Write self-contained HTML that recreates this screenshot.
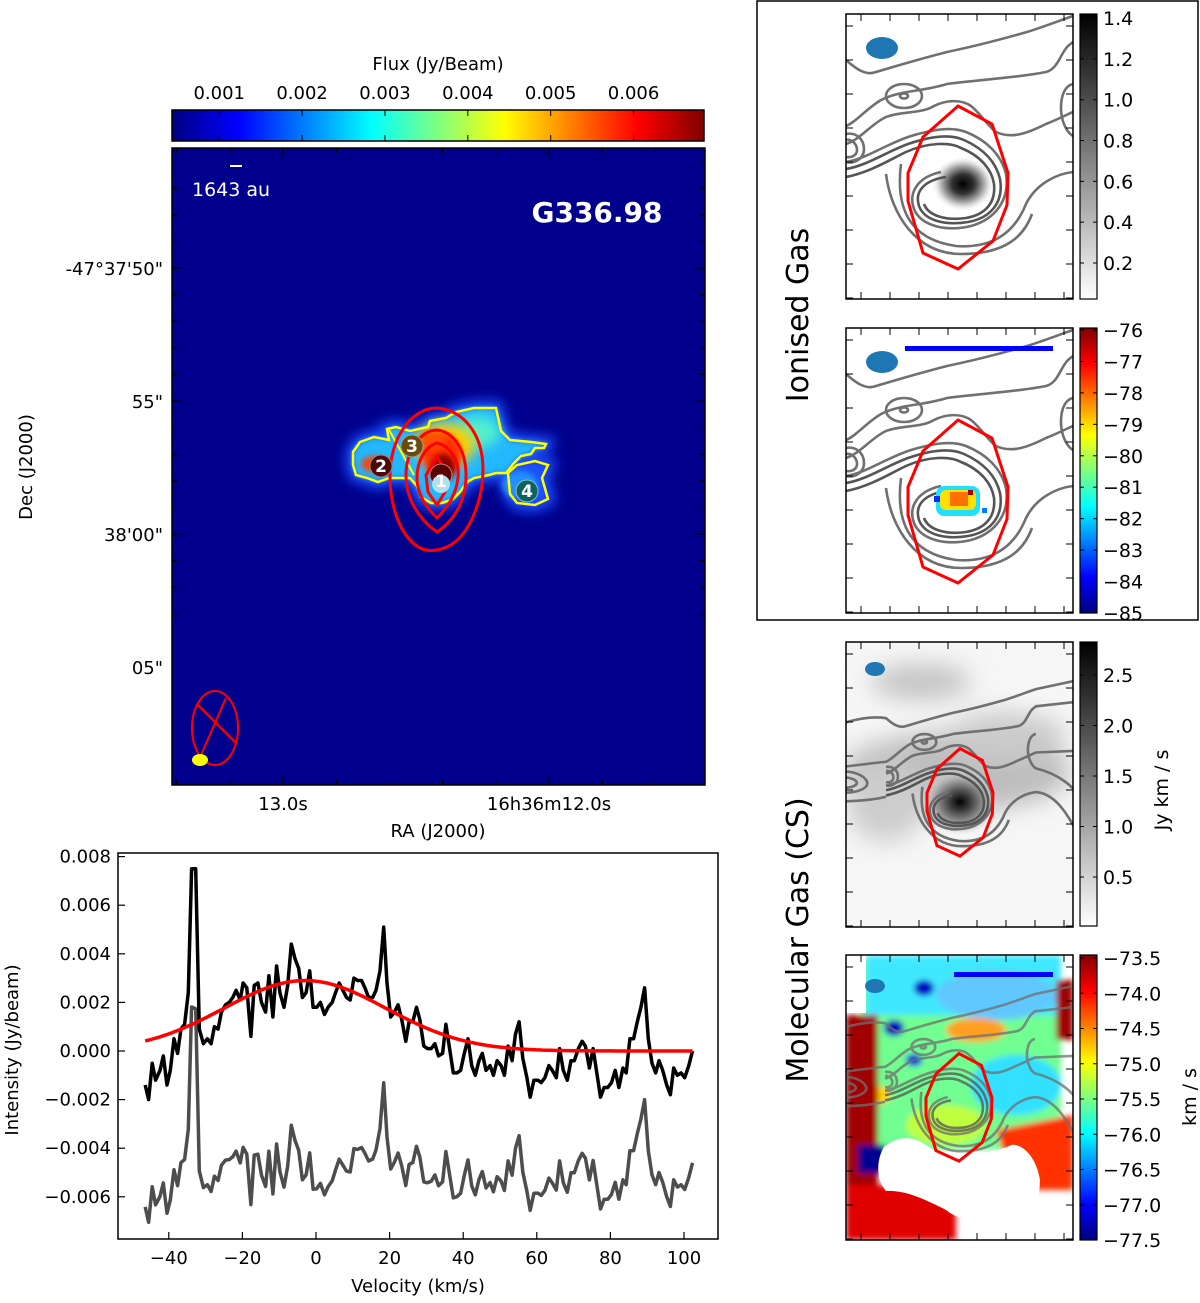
<!DOCTYPE html>
<html><head><meta charset="utf-8">
<style>
html,body{margin:0;padding:0;background:#fff;}
svg text{font-family:"DejaVu Sans","Liberation Sans",sans-serif;}
</style></head>
<body>
<svg id="fig" width="1200" height="1298" viewBox="0 0 1200 1298" xmlns="http://www.w3.org/2000/svg">
<defs>
  <linearGradient id="jetH" x1="0" y1="0" x2="1" y2="0">
    <stop offset="0" stop-color="#000080"/><stop offset="0.125" stop-color="#0000ff"/>
    <stop offset="0.375" stop-color="#00ffff"/><stop offset="0.625" stop-color="#ffff00"/>
    <stop offset="0.875" stop-color="#ff0000"/><stop offset="1" stop-color="#800000"/>
  </linearGradient>
  <linearGradient id="jetV" x1="0" y1="1" x2="0" y2="0">
    <stop offset="0" stop-color="#000080"/><stop offset="0.125" stop-color="#0000ff"/>
    <stop offset="0.375" stop-color="#00ffff"/><stop offset="0.625" stop-color="#ffff00"/>
    <stop offset="0.875" stop-color="#ff0000"/><stop offset="1" stop-color="#800000"/>
  </linearGradient>
  <linearGradient id="grayV" x1="0" y1="1" x2="0" y2="0">
    <stop offset="0" stop-color="#ffffff"/><stop offset="1" stop-color="#000000"/>
  </linearGradient>
  <radialGradient id="blob1"><stop offset="0" stop-color="#000"/><stop offset="0.35" stop-color="#333"/><stop offset="0.7" stop-color="#bbb"/><stop offset="1" stop-color="#fff" stop-opacity="0"/></radialGradient>
  <radialGradient id="blob3"><stop offset="0" stop-color="#000"/><stop offset="0.3" stop-color="#444"/><stop offset="0.7" stop-color="#aaa"/><stop offset="1" stop-color="#ddd" stop-opacity="0"/></radialGradient>
  <filter id="blur3" x="-50%" y="-50%" width="200%" height="200%"><feGaussianBlur stdDeviation="3"/></filter>
  <filter id="blur6" x="-50%" y="-50%" width="200%" height="200%"><feGaussianBlur stdDeviation="6"/></filter>
  <filter id="blur12" x="-50%" y="-50%" width="200%" height="200%"><feGaussianBlur stdDeviation="12"/></filter>
  <clipPath id="mapClip"><rect x="172" y="148" width="533" height="637"/></clipPath>
  <clipPath id="pClip"><rect x="0" y="0" width="227" height="285"/></clipPath>
  <g id="contours" fill="none" stroke="#707070" stroke-width="2.6">
    <path vector-effect="non-scaling-stroke" d="M-120,70 C-80,60 -40,40 0,46 C10,55 20,62 30,58 C50,52 70,46 101,38 C130,32 160,24 181,18 C200,12 215,6 227,2 L330,-20"/>
    <path vector-effect="non-scaling-stroke" d="M-120,125 C-60,120 -30,115 0,112 C10,108 20,95 35,86 C55,76 75,78 101,70 C130,66 170,64 200,58 C212,55 214,40 222,32 L227,28 L300,20"/>
    <path vector-effect="non-scaling-stroke" d="M227,70 C215,72 212,95 218,110 C222,120 227,122 227,122 C260,130 290,150 300,180"/>
    <ellipse vector-effect="non-scaling-stroke" cx="58" cy="82" rx="18" ry="12"/>
    <ellipse vector-effect="non-scaling-stroke" cx="58" cy="82" rx="4" ry="2.5"/>
    <path vector-effect="non-scaling-stroke" d="M0,130 C15,125 25,110 40,103 C55,97 75,100 88,92 C100,86 115,85 125,92 C135,100 140,110 150,118 C165,125 180,120 200,110 C215,104 222,100 227,98 L300,95"/>
    <path vector-effect="non-scaling-stroke" d="M0,148 C20,145 40,130 65,122 C85,116 105,112 120,118 C140,126 155,140 160,160 C164,185 150,205 125,212 C100,218 75,212 68,195 C62,178 72,163 95,158"/>
    <path vector-effect="non-scaling-stroke" d="M0,155 C20,152 40,138 62,130 C85,122 105,120 118,126 C138,135 150,148 154,165 C158,188 145,204 122,208 C98,212 78,206 73,192 C68,176 80,166 100,163" stroke="#555"/>
    <path vector-effect="non-scaling-stroke" d="M0,163 C25,158 45,145 60,138 C82,128 105,128 115,134 C135,142 146,156 148,170 C150,190 138,201 120,204 C98,207 82,201 78,190" stroke="#555"/>
    <path vector-effect="non-scaling-stroke" d="M0,120 C10,118 18,125 18,135 C18,145 8,150 0,148"/>
    <path vector-effect="non-scaling-stroke" d="M0,126 C6,125 11,130 11,136 C11,141 6,144 0,143"/>
    <path vector-effect="non-scaling-stroke" d="M-100,140 C-80,120 -40,125 -30,140 C-20,155 -60,165 -90,155 Z"/>
    <path vector-effect="non-scaling-stroke" d="M-90,142 C-75,132 -50,135 -45,142 C-40,150 -65,155 -85,150 Z"/>
    <path vector-effect="non-scaling-stroke" d="M-120,170 C-60,175 -20,170 0,165 M55,150 C50,190 60,225 110,232 C150,235 170,215 180,190 C190,170 210,160 227,158 C260,160 280,200 300,240"/>
    <path vector-effect="non-scaling-stroke" d="M40,160 C45,200 70,240 115,240 C160,240 178,222 186,200"/>
  </g>
  <polygon id="redpoly" vector-effect="non-scaling-stroke" points="112,92 146,110 162,159 161,191 147,227 112,255 77,239 62,187 62,159 77,123" fill="none" stroke="#f00" stroke-width="3"/>
</defs>

<!-- ============ MAIN MAP ============ -->
<g>
  <text x="438" y="70" font-size="18" text-anchor="middle">Flux (Jy/Beam)</text>
  <rect x="172" y="110" width="532" height="31" fill="url(#jetH)" stroke="#000" stroke-width="1.5"/>
  <g id="cbTicks"></g>

  <g clip-path="url(#mapClip)">
    <rect x="172" y="148" width="533" height="637" fill="#00008c"/>
    <polygon points="353,452 360,442 374,437 389,440 387,429 396,427 410,431 428,427 430,421 446,418 456,412 474,408 496,408 501,431 510,440 531,442 546,444 544,448 535,448 531,454 521,456 514,463 506,473 496,473 489,475 474,478 467,482 460,492 453,499 442,503 431,503 421,497 417,486 410,478 403,478 389,478 378,482 367,478 356,475 353,465" fill="#1a50ff" stroke="#1a50ff" stroke-width="14" filter="url(#blur6)"/>
    <polygon points="508,473 517,465 535,461 548,465 542,478 548,499 535,505 517,503 510,494" fill="#1a50ff" stroke="#1a50ff" stroke-width="14" filter="url(#blur6)"/>
    <polygon points="353,452 360,442 374,437 389,440 387,429 396,427 410,431 428,427 430,421 446,418 456,412 474,408 496,408 501,431 510,440 531,442 546,444 544,448 535,448 531,454 521,456 514,463 506,473 496,473 489,475 474,478 467,482 460,492 453,499 442,503 431,503 421,497 417,486 410,478 403,478 389,478 378,482 367,478 356,475 353,465" fill="#20b8ff" filter="url(#blur3)"/>
    <ellipse cx="478" cy="432" rx="22" ry="16" fill="#50f0d0" filter="url(#blur6)"/>
    <ellipse cx="445" cy="445" rx="30" ry="22" fill="#ffd000" filter="url(#blur6)"/>
    <ellipse cx="442" cy="455" rx="20" ry="22" fill="#ff3000" filter="url(#blur3)"/>
    <ellipse cx="432" cy="440" rx="14" ry="9" fill="#ff5000" filter="url(#blur3)"/>
    <ellipse cx="443" cy="468" rx="12" ry="14" fill="#8a0000" filter="url(#blur3)"/>
    <ellipse cx="375" cy="464" rx="14" ry="8" fill="#ff4000" filter="url(#blur3)"/>
    <ellipse cx="520" cy="485" rx="18" ry="14" fill="#2090ff" filter="url(#blur3)"/>
    <polygon points="353,452 360,442 374,437 389,440 387,429 396,427 410,431 428,427 430,421 446,418 456,412 474,408 496,408 501,431 510,440 531,442 546,444 544,448 535,448 531,454 521,456 514,463 506,473 496,473 489,475 474,478 467,482 460,492 453,499 442,503 431,503 421,497 417,486 410,478 403,478 389,478 378,482 367,478 356,475 353,465" fill="none" stroke="#ffff00" stroke-width="2.5"/>
    <polygon points="508,473 517,465 535,461 548,465 542,478 548,499 535,505 517,503 510,494" fill="none" stroke="#ffff00" stroke-width="2.5"/>
    <line x1="388" y1="428" x2="414" y2="475" stroke="#ffff00" stroke-width="2"/>
    <g fill="none" stroke="#ff0000" stroke-width="3">
      <path d="M437,408 C462,410 483,432 483,470 C483,500 470,530 455,542 C445,550 430,553 420,548 C402,538 390,510 390,475 C390,440 410,408 437,408 Z"/>
      <path d="M437,430 C455,432 466,452 466,475 C466,500 455,520 437,532 C420,520 406,500 406,475 C406,452 420,430 437,430 Z"/>
      <path d="M437,443 C450,446 460,460 458,478 C456,495 447,508 437,518 C427,508 417,495 417,478 C417,460 426,446 437,443 Z"/>
      <path d="M437,457 L448,475 L445,492 L437,505 L428,492 L426,475 Z"/>
    </g>
    <g font-size="17" font-weight="bold" fill="#fff" text-anchor="middle">
      <circle cx="441" cy="475" r="11" fill="#5a0000" stroke="#c08080" stroke-width="1"/>
      <circle cx="441" cy="484" r="9" fill="#aee0f0"/>
      <text x="441" y="487">1</text>
      <circle cx="381" cy="466" r="11" fill="#4a0a0a" stroke="#a08080" stroke-width="1"/>
      <text x="381" y="472">2</text>
      <circle cx="412" cy="446" r="11" fill="#6a4a10" stroke="#a0a080" stroke-width="1"/>
      <text x="412" y="452">3</text>
      <circle cx="527" cy="491" r="11" fill="#106060" stroke="#80c0c0" stroke-width="1"/>
      <text x="527" y="497">4</text>
    </g>
    <ellipse cx="215" cy="728" rx="23" ry="37" fill="none" stroke="#ff0000" stroke-width="2"/>
    <line x1="198" y1="705" x2="236" y2="743" stroke="#ff0000" stroke-width="2"/>
    <line x1="226" y1="698" x2="198" y2="762" stroke="#ff0000" stroke-width="2"/>
    <ellipse cx="200" cy="760" rx="8" ry="6" fill="#ffff00"/>
    <line x1="230" y1="166" x2="242" y2="166" stroke="#fff" stroke-width="2"/>
    <text x="192" y="196" font-size="19" fill="#fff">1643 au</text>
    <text x="597" y="222" font-size="28" font-weight="bold" fill="#fff" text-anchor="middle">G336.98</text>
  </g>
  <rect x="172" y="148" width="533" height="637" fill="none" stroke="#000" stroke-width="1.5"/>
  <g id="mapTicks"></g>
  <g font-size="18" text-anchor="end">
    <text x="163" y="275">-47°37'50"</text>
    <text x="163" y="408">55"</text>
    <text x="163" y="541">38'00"</text>
    <text x="163" y="674">05"</text>
  </g>
  <g font-size="18" text-anchor="middle">
    <text x="283" y="810">13.0s</text>
    <text x="549" y="810">16h36m12.0s</text>
  </g>
  <text x="438" y="837" font-size="18" text-anchor="middle">RA (J2000)</text>
  <text x="0" y="0" font-size="18" text-anchor="middle" transform="translate(32,467) rotate(-90)">Dec (J2000)</text>
</g>

<!-- ============ SPECTRUM ============ -->
<g>
  <g id="specMarks"></g>
  <rect x="118" y="853" width="600" height="386" fill="none" stroke="#000" stroke-width="1.5"/>
  <g id="specAxes"></g>
  <text x="418" y="1292" font-size="18" text-anchor="middle">Velocity (km/s)</text>
  <text x="0" y="0" font-size="18" text-anchor="middle" transform="translate(18,1050) rotate(-90)">Intensity (Jy/beam)</text>
</g>

<!-- ============ RIGHT PANELS ============ -->
<rect x="757" y="1" width="441" height="619" fill="none" stroke="#000" stroke-width="1.5"/>
<text x="0" y="0" font-size="30" text-anchor="middle" transform="translate(808,315) rotate(-90)">Ionised Gas</text>
<text x="0" y="0" font-size="30" text-anchor="middle" transform="translate(808,940) rotate(-90)">Molecular Gas (CS)</text>

<!-- panel 1 -->
<g transform="translate(846,14)">
  <g clip-path="url(#pClip)">
    <rect width="227" height="285" fill="#fff"/>
    <ellipse cx="117" cy="170" rx="32" ry="28" fill="url(#blob1)"/>
    <use href="#contours"/>
    <use href="#redpoly"/>
    <ellipse cx="36" cy="34" rx="16" ry="11" fill="#1f77b4"/>
  </g>
  <rect width="227" height="285" fill="none" stroke="#000" stroke-width="1.5"/>
</g>
<!-- panel 2 -->
<g transform="translate(846,328)">
  <g clip-path="url(#pClip)">
    <rect width="227" height="285" fill="#fff"/>
    <use href="#contours"/>
    <rect x="90" y="158" width="44" height="30" rx="8" fill="#20e0ff"/>
    <rect x="94" y="162" width="36" height="20" rx="6" fill="#ffe000"/>
    <rect x="104" y="164" width="18" height="14" fill="#ff7000"/>
    <rect x="122" y="162" width="5" height="5" fill="#a00000"/>
    <rect x="88" y="168" width="6" height="6" fill="#0030ff"/>
    <rect x="136" y="180" width="5" height="5" fill="#0080ff"/>
    <use href="#redpoly"/>
    <ellipse cx="36" cy="34" rx="16" ry="11" fill="#1f77b4"/>
    <rect x="59" y="18" width="148" height="5" fill="#0000ff"/>
  </g>
  <rect width="227" height="285" fill="none" stroke="#000" stroke-width="1.5"/>
</g>
<!-- panel 3 -->
<g transform="translate(846,642)">
  <g clip-path="url(#pClip)">
    <rect width="227" height="285" fill="#f6f6f6"/>
    <g filter="url(#blur12)">
      <ellipse cx="75" cy="40" rx="50" ry="18" fill="#c4c4c4"/>
      <ellipse cx="110" cy="130" rx="115" ry="40" fill="#bdbdbd"/>
      <ellipse cx="40" cy="160" rx="40" ry="40" fill="#cdcdcd"/>
      <ellipse cx="160" cy="95" rx="60" ry="25" fill="#cacaca"/>
    </g>
    <ellipse cx="114" cy="160" rx="38" ry="33" fill="url(#blob3)"/>
    <g transform="translate(114,160) scale(0.66) translate(-112,-173)"><use href="#contours"/><use href="#redpoly"/></g>
    <ellipse cx="29" cy="27" rx="10" ry="7" fill="#1f77b4"/>
  </g>
  <rect width="227" height="285" fill="none" stroke="#000" stroke-width="1.5"/>
</g>
<!-- panel 4 -->
<g transform="translate(846,955)">
  <g clip-path="url(#pClip)">
    <rect width="227" height="285" fill="#fff"/>
    <g filter="url(#blur3)">
      <rect x="15" y="5" width="200" height="190" fill="#70ff90"/>
      <rect x="20" y="0" width="195" height="60" fill="#40e8ff"/>
      <ellipse cx="150" cy="40" rx="60" ry="25" fill="#60c8ff"/>
      <ellipse cx="170" cy="130" rx="45" ry="30" fill="#30e0ff"/>
      <ellipse cx="130" cy="75" rx="30" ry="12" fill="#ffa020"/>
      <ellipse cx="25" cy="140" rx="20" ry="10" fill="#ffd000"/>
      <ellipse cx="100" cy="170" rx="40" ry="20" fill="#c0ff40"/>
      <ellipse cx="78" cy="33" rx="10" ry="8" fill="#0000c0"/>
      <ellipse cx="48" cy="73" rx="10" ry="8" fill="#0000c0"/>
      <ellipse cx="68" cy="105" rx="8" ry="6" fill="#0000e0"/>
      <rect x="0" y="60" width="32" height="170" fill="#a00000"/>
      <rect x="210" y="25" width="17" height="60" fill="#a00000"/>
      <path d="M150,175 L227,160 L227,235 L170,235 Z" fill="#ff3000"/>
      <rect x="12" y="190" width="28" height="28" fill="#000090"/>
      <rect x="0" y="230" width="110" height="55" fill="#e00000"/>
    </g>
    <path d="M38,192 C55,178 72,182 88,196 C120,200 150,198 165,190 C175,188 190,200 194,225 L192,258 C150,262 120,272 100,255 C80,245 60,235 40,236 C30,225 30,205 38,192 Z" fill="#fff"/>
    <rect x="0" y="0" width="20" height="58" fill="#fff"/>
    <g opacity="0.75"><g transform="translate(113,152) scale(0.66) translate(-112,-173)"><use href="#contours"/></g></g>
    <g transform="translate(113,152) scale(0.66) translate(-112,-173)"><use href="#redpoly"/></g>
    <ellipse cx="29" cy="31" rx="10" ry="7" fill="#1f77b4"/>
    <rect x="108" y="17" width="99" height="5" fill="#0000ff"/>
  </g>
  <rect width="227" height="285" fill="none" stroke="#000" stroke-width="1.5"/>
</g>

<!-- colorbars right -->
<rect x="1080" y="14" width="17" height="285" fill="url(#grayV)" stroke="#000" stroke-width="1.2"/>
<rect x="1080" y="328" width="17" height="285" fill="url(#jetV)" stroke="#000" stroke-width="1.2"/>
<rect x="1080" y="642" width="17" height="284" fill="url(#grayV)" stroke="#000" stroke-width="1.2"/>
<rect x="1080" y="955" width="17" height="285" fill="url(#jetV)" stroke="#000" stroke-width="1.2"/>
<g id="rightTicks"></g>
<text x="0" y="0" font-size="19" text-anchor="middle" transform="translate(1168,790) rotate(-90)">Jy km / s</text>
<text x="0" y="0" font-size="19" text-anchor="middle" transform="translate(1196,1097) rotate(-90)">km / s</text>

<script>
// ---- spectrum data ----
const velocity = [-46.4,-45.5,-44.5,-43.6,-42.4,-41.5,-40.5,-39.6,-38.6,-37.6,-36.7,-35.7,-34.7,-33.8,-32.7,-31.7,-30.6,-29.5,-28.5,-27.6,-26.6,-25.7,-24.6,-23.6,-22.6,-21.7,-20.6,-19.8,-18.8,-17.7,-16.8,-15.8,-14.8,-13.7,-12.8,-11.7,-10.7,-9.8,-8.7,-7.7,-6.7,-5.7,-4.7,-3.7,-2.7,-1.7,-0.8,0.2,1.2,2.3,3.3,4.4,5.3,6.3,7.3,8.3,9.3,10.3,11.3,12.4,13.3,14.3,15.4,16.3,17.4,18.4,19.3,20.3,21.3,22.3,23.3,24.4,25.3,26.3,27.3,28.2,29.3,30.3,31.3,32.3,33.3,34.4,35.3,36.3,37.3,38.3,39.3,40.3,41.3,42.3,43.3,44.3,45.2,46.2,47.3,48.2,49.2,50.3,51.2,52.2,53.3,54.2,55.2,56.2,57.3,58.2,59.2,60.3,61.2,62.2,63.3,64.2,65.3,66.2,67.2,68.3,69.3,70.2,71.3,72.3,73.2,74.3,75.3,76.3,77.3,78.3,79.3,80.3,81.3,82.3,83.4,84.3,85.3,86.3,87.3,88.3,89.3,90.3,91.3,92.3,93.2,94.2,95.3,96.3,97.2,98.2,99.2,100.2,101.3,102.3];
const intensity = [-0.0014,-0.0020,-0.0005,-0.0012,-0.0008,-0.0002,-0.0014,-0.0008,0.0005,-0.0001,0.0009,0.0011,0.0024,0.0075,0.0075,0.0009,0.0003,0.0005,0.0003,0.0010,0.0009,0.0016,0.0019,0.0020,0.0022,0.0025,0.0021,0.0028,0.0026,0.0006,0.0027,0.0028,0.0020,0.0016,0.0031,0.0014,0.0035,0.0024,0.0018,0.0027,0.0044,0.0038,0.0034,0.0022,0.0024,0.0033,0.0018,0.0018,0.0020,0.0015,0.0018,0.0020,0.0024,0.0028,0.0025,0.0022,0.0021,0.0030,0.0029,0.0029,0.0026,0.0022,0.0022,0.0025,0.0033,0.0051,0.0028,0.0014,0.0016,0.0019,0.0013,0.0004,0.0012,0.0012,0.0018,0.0013,0.0002,0.0001,0.0001,0.0003,-0.0002,-0.0001,0.0011,0.0001,-0.0009,-0.0009,-0.0008,-0.0001,0.0005,-0.0006,-0.0010,-0.0004,-0.0001,-0.0008,-0.0006,-0.0010,-0.0004,-0.0006,-0.0010,0.0002,-0.0004,0.0007,0.0012,-0.0003,-0.0011,-0.0019,-0.0012,-0.0012,-0.0013,-0.0011,-0.0006,-0.0008,-0.0011,0.0001,-0.0008,-0.0012,-0.0004,-0.0004,0.0001,0.0004,0.0002,-0.0007,0.0001,-0.0009,-0.0019,-0.0015,-0.0015,-0.0013,-0.0008,-0.0015,-0.0007,-0.0009,0.0005,0.0005,0.0012,0.0018,0.0026,0.0005,-0.0005,-0.0009,-0.0004,-0.0008,-0.0014,-0.0018,-0.0007,-0.0010,-0.0009,-0.0011,-0.0006,0.0000];
const fitAmplitude = [0.0029];
const fitCentre = [-3];
const fitSigma = [22];
const residualOffset = [0.0046];
const xTicks = [-40,-20,0,20,40,60,80,100];
const yTicks = [0.008,0.006,0.004,0.002,0.000,-0.002,-0.004,-0.006];
const yTickLabels = ["0.008","0.006","0.004","0.002","0.000","\u22120.002","\u22120.004","\u22120.006"];
// ---- colorbar data ----
const fluxTicks = [0.001,0.002,0.003,0.004,0.005,0.006];
const fluxMin = 0.00043, fluxMax = 0.00685;
const cb1Ticks = [1.4,1.2,1.0,0.8,0.6,0.4,0.2];
const cb2Ticks = [-76,-77,-78,-79,-80,-81,-82,-83,-84,-85];
const cb3Ticks = [2.5,2.0,1.5,1.0,0.5];
const cb4Ticks = ["-73.5","-74.0","-74.5","-75.0","-75.5","-76.0","-76.5","-77.0","-77.5"];

const NS = "http://www.w3.org/2000/svg";
function mk(tag, attrs, parent){const e=document.createElementNS(NS,tag);for(const k in attrs)e.setAttribute(k,attrs[k]);parent.appendChild(e);return e;}
function xS(v){return 316 + v*3.68;}
function yS(i){return 1051 - i*24300;}
function fitVal(v){return fitAmplitude[0]*Math.exp(-Math.pow(v-fitCentre[0],2)/(2*fitSigma[0]*fitSigma[0]));}

const sm = document.getElementById('specMarks');
let dRes = "", dObs = "", dFit = "";
velocity.forEach((v,k)=>{
  const r = intensity[k] - fitVal(v) - residualOffset[0];
  dRes += (k?"L":"M") + xS(v).toFixed(1) + "," + yS(r).toFixed(1);
  dObs += (k?"L":"M") + xS(v).toFixed(1) + "," + yS(intensity[k]).toFixed(1);
});
for(let k=0;k<=150;k++){const v=velocity[0]+(velocity[velocity.length-1]-velocity[0])*k/150;dFit+=(k?"L":"M")+xS(v).toFixed(1)+","+yS(fitVal(v)).toFixed(1);}
const pRes = mk('path',{d:dRes,fill:'none',stroke:'#4d4d4d','stroke-width':3.5,'stroke-linejoin':'round'},sm);


const pObs = mk('path',{d:dObs,fill:'none',stroke:'#000','stroke-width':3.5,'stroke-linejoin':'round'},sm);


const pFit = mk('path',{d:dFit,fill:'none',stroke:'#ff0000','stroke-width':3.5},sm);



const sa = document.getElementById('specAxes');
xTicks.forEach(t=>{
  const x=xS(t);
  mk('line',{x1:x,y1:1239,x2:x,y2:1232,stroke:'#000','stroke-width':1.2},sa);
  const tx=mk('text',{x:x,y:1264,'font-size':18,'text-anchor':'middle'},sa);
  tx.textContent = t<0 ? "\u2212"+Math.abs(t) : String(t);
  
  
});
yTicks.forEach((t,k)=>{
  const y=yS(t);
  mk('line',{x1:118,y1:y,x2:125,y2:y,stroke:'#000','stroke-width':1.2},sa);
  const tx=mk('text',{x:111,y:y+6,'font-size':18,'text-anchor':'end'},sa);
  tx.textContent = yTickLabels[k];
  
  
});

// flux colorbar ticks
const cbt=document.getElementById('cbTicks');
fluxTicks.forEach(t=>{
  const x=172+(t-fluxMin)/(fluxMax-fluxMin)*532;
  mk('line',{x1:x,y1:110,x2:x,y2:116,stroke:'#000','stroke-width':1},cbt);
  mk('line',{x1:x,y1:135,x2:x,y2:141,stroke:'#000','stroke-width':1},cbt);
  const tx=mk('text',{x:x,y:99,'font-size':18,'text-anchor':'middle'},cbt);
  tx.textContent=t.toFixed(3);
  
  
});

// map ticks
const mt=document.getElementById('mapTicks');
for(let k=0;k<24;k++){const yy=268-133*2+k*26.6; if(yy<150||yy>783)continue; const L=((Math.round((yy-268)/26.6))%5===0)?10:5;
  mk('line',{x1:172,y1:yy,x2:172+L,y2:yy,stroke:'#000','stroke-width':1.2},mt);
  mk('line',{x1:705-L,y1:yy,x2:705,y2:yy,stroke:'#000','stroke-width':1.2},mt);}
for(let k=-10;k<20;k++){const xx=283+k*53.2; if(xx<174||xx>703)continue; const L=(k%5===0)?10:5;
  mk('line',{x1:xx,y1:148,x2:xx,y2:148+L,stroke:'#000','stroke-width':1.2},mt);
  mk('line',{x1:xx,y1:785-L,x2:xx,y2:785,stroke:'#000','stroke-width':1.2},mt);}

// right panel ticks + colorbar labels
const rt=document.getElementById('rightTicks');
[14,328,642,955].forEach(py=>{
  for(let k=0;k<8;k++){const x=846+15+k*29;
    mk('line',{x1:x,y1:py,x2:x,y2:py+7,stroke:'#000','stroke-width':1},rt);
    mk('line',{x1:x,y1:py+285-7,x2:x,y2:py+285,stroke:'#000','stroke-width':1},rt);}
  for(let k=0;k<9;k++){const y=py+12+k*34;
    mk('line',{x1:846,y1:y,x2:853,y2:y,stroke:'#000','stroke-width':1},rt);
    mk('line',{x1:1066,y1:y,x2:1073,y2:y,stroke:'#000','stroke-width':1},rt);}
});
function cbLabels(list, y0, y1, fmt, x){
  list.forEach((t,k)=>{
    const y = y0 + (y1-y0)*k/(list.length-1);
    mk('line',{x1:1080,y1:y,x2:1084,y2:y,stroke:'#000','stroke-width':1},rt);
    mk('line',{x1:1093,y1:y,x2:1097,y2:y,stroke:'#000','stroke-width':1},rt);
    const tx=mk('text',{x:x,y:y+7,'font-size':19},rt);
    tx.textContent = fmt(t);
    
    
  });
}
cbLabels(cb1Ticks,18,263,t=>t.toFixed(1),1103);
cbLabels(cb2Ticks,330,613,t=>"\u2212"+Math.abs(t),1103);
cbLabels(cb3Ticks,675,877,t=>t.toFixed(1),1103);
cbLabels(cb4Ticks,958,1240,t=>t.replace("-","\u2212"),1103);
</script>
</svg>
</body></html>
